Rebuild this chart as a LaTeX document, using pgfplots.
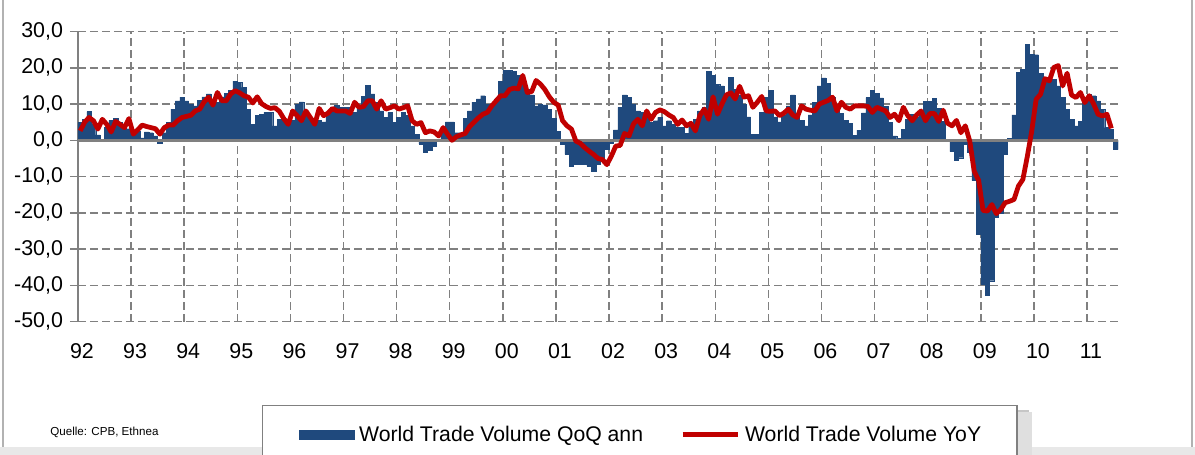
\documentclass[border=0pt]{standalone}
\usepackage{pgfplots}
\pgfplotsset{compat=1.18}
\usepackage{fontspec}
\setmainfont{Liberation Sans}
\definecolor{barblue}{RGB}{31,73,125}
\definecolor{linered}{RGB}{192,0,0}
\begin{document}
\begin{tikzpicture}[x=1pt,y=1pt]
\path[use as bounding box] (0,0) rectangle (597.5,227.5);
\fill[gray!18] (0,0) rectangle (597.5,4);
\draw[gray!60, line width=0.75pt] (1.5,4) -- (1.5,228);
\draw[gray!60, line width=0.75pt] (596,4) -- (596,228);
\fill[gray!45] (134,-5) rectangle (514.5,22.5);
\fill[gray!25] (134,-5) rectangle (516,21.5);
\node[anchor=west, font=\fontsize{5.8}{7}\selectfont, inner sep=0pt] at (25,11.5) {Quelle: CPB, Ethnea};
\begin{axis}[
  at={(39pt,66.65pt)}, anchor=south west, scale only axis,
  width=520pt, height=145.1pt,
  xmin=-0.5, xmax=234.5, ymin=-50, ymax=30,
  axis y line*=left, axis x line*=bottom,
  x axis line style={draw=none},
  y axis line style={draw=gray, line width=1pt},
  xtick={-0.5,11.5,...,227.5},
  xticklabels={92,93,94,95,96,97,98,99,00,01,02,03,04,05,06,07,08,09,10,11},
  ytick={-50,-40,...,30},
  yticklabels={{-50,0},{-40,0},{-30,0},{-20,0},{-10,0},{0,0},{10,0},{20,0},{30,0}},
  tick label style={font=\fontsize{10.7}{12}\selectfont, text=black},
  xticklabel style={xshift=2pt, yshift=-3.5pt},
  xtick style={draw=none},
  ytick style={draw=gray, line width=0.75pt},
  tick align=outside, major tick length=4pt,
  grid=major,
  major grid style={draw=gray, dash pattern=on 4pt off 2pt, line width=0.75pt},
  clip=true,
  legend columns=2,
  legend style={at={(0.1769,-0.287)}, anchor=north west, draw=gray, line width=0.75pt,
    fill=white, font=\fontsize{10.6}{12}\selectfont, inner xsep=18pt, inner ysep=10pt,
    nodes={inner sep=0pt, text=black},
    /tikz/every odd column/.append style={column sep=2.5pt},
    /tikz/every even column/.append style={column sep=18.5pt}},
]
\addplot[ybar, bar width=1, bar shift=0pt, fill=barblue, draw=barblue, line width=0.2pt,
  legend image code/.code={\fill[barblue] (0pt,-2.25pt) rectangle (27.5pt,2.25pt);}]
coordinates {
(0,4.9)(1,5.8)(2,7.9)(3,4.5)(4,1.5)(5,0.3)(6,3.5)(7,5.5)(8,6.1)(9,5.0)(10,4.2)(11,3.2)
(12,2.8)(13,2.5)(14,0.7)(15,2.3)(16,2.1)(17,1.2)(18,-0.8)(19,2.1)(20,4.9)(21,8.6)(22,10.9)(23,11.9)
(24,10.9)(25,10.0)(26,9.5)(27,11.0)(28,12.0)(29,12.8)(30,11.4)(31,10.5)(32,12.0)(33,13.0)(34,13.7)(35,16.3)
(36,16.0)(37,14.6)(38,8.6)(39,4.4)(40,6.8)(41,7.2)(42,7.7)(43,7.7)(44,4.0)(45,5.8)(46,5.8)(47,5.8)
(48,5.5)(49,10.0)(50,10.6)(51,7.0)(52,5.8)(53,4.4)(54,5.5)(55,5.1)(56,6.8)(57,9.1)(58,9.7)(59,9.1)
(60,9.1)(61,9.1)(62,7.7)(63,9.5)(64,12.1)(65,15.1)(66,12.8)(67,10.5)(68,8.1)(69,6.3)(70,7.7)(71,4.9)
(72,6.3)(73,7.7)(74,6.8)(75,4.0)(76,1.7)(77,-1.0)(78,-3.2)(79,-2.7)(80,-1.6)(81,-0.2)(82,3.5)(83,5.1)
(84,5.1)(85,2.1)(86,2.1)(87,6.0)(88,8.1)(89,10.5)(90,11.4)(91,12.3)(92,10.0)(93,9.5)(94,11.4)(95,16.2)
(96,19.3)(97,19.3)(98,19.0)(99,17.9)(100,16.0)(101,14.0)(102,12.5)(103,9.5)(104,10.0)(105,9.8)(106,8.6)(107,6.0)
(108,2.5)(109,-1.1)(110,-3.9)(111,-7.1)(112,-6.7)(113,-6.7)(114,-6.7)(115,-7.1)(116,-8.5)(117,-6.7)(118,-5.3)(119,-2.5)
(120,-0.8)(121,2.9)(122,9.1)(123,12.5)(124,11.9)(125,10.0)(126,8.1)(127,7.7)(128,7.7)(129,4.9)(130,5.4)(131,6.3)
(132,4.0)(133,5.4)(134,4.4)(135,3.5)(136,3.5)(137,1.9)(138,4.0)(139,5.8)(140,8.1)(141,9.1)(142,19.0)(143,17.9)
(144,15.4)(145,15.0)(146,12.5)(147,17.4)(148,14.0)(149,12.5)(150,10.0)(151,6.5)(152,1.7)(153,1.7)(154,7.7)(155,11.9)
(156,13.7)(157,6.5)(158,5.1)(159,7.0)(160,9.5)(161,12.5)(162,7.6)(163,5.5)(164,4.0)(165,7.0)(166,10.5)(167,15.0)
(168,17.2)(169,15.8)(170,12.0)(171,8.8)(172,7.5)(173,5.6)(174,4.6)(175,1.3)(176,2.8)(177,7.6)(178,11.8)(179,13.8)
(180,13.0)(181,11.7)(182,9.4)(183,4.9)(184,1.2)(185,0.5)(186,3.0)(187,5.8)(188,7.2)(189,6.5)(190,8.0)(191,10.7)
(192,10.7)(193,11.5)(194,8.8)(195,5.3)(196,0.0)(197,-3.1)(198,-5.5)(199,-4.8)(200,-1.1)(201,-3.4)(202,-11.1)(203,-25.8)
(204,-39.6)(205,-42.6)(206,-38.7)(207,-21.2)(208,-20.0)(209,-3.7)(210,0.6)(211,7.0)(212,18.7)(213,19.6)(214,26.4)(215,23.8)
(216,23.6)(217,18.4)(218,17.3)(219,17.3)(220,16.9)(221,15.0)(222,11.8)(223,8.6)(224,5.8)(225,4.0)(226,5.3)(227,10.4)
(228,12.7)(229,12.3)(230,10.9)(231,8.6)(232,3.5)(233,3.0)(234,-2.5)
};
\addlegendentry{World Trade Volume QoQ ann}
\addplot[draw=gray, line width=1.2pt, forget plot] coordinates {(-0.5,0) (234.5,0)};
\addplot[linered, line width=2.4pt, line join=round, mark=none,
  legend image code/.code={\draw[linered, line width=2.5pt] (0pt,0pt) -- (27.5pt,0pt);}]
coordinates {
(0,2.6)(1,5.0)(2,6.3)(3,5.4)(4,3.1)(5,5.8)(6,4.4)(7,2.3)(8,5.2)(9,4.4)(10,3.5)(11,6.0)
(12,1.7)(13,2.9)(14,4.2)(15,3.8)(16,3.5)(17,3.2)(18,1.7)(19,3.5)(20,4.2)(21,4.2)(22,5.4)(23,6.3)
(24,6.6)(25,6.9)(26,8.1)(27,8.6)(28,10.6)(29,11.9)(30,9.7)(31,13.2)(32,10.9)(33,10.9)(34,12.8)(35,13.7)
(36,13.1)(37,12.3)(38,11.9)(39,10.3)(40,12.0)(41,10.1)(42,9.3)(43,8.8)(44,9.0)(45,8.0)(46,6.0)(47,4.4)
(48,8.1)(49,6.8)(50,5.4)(51,8.1)(52,6.3)(53,4.4)(54,8.8)(55,6.8)(56,7.5)(57,8.8)(58,8.1)(59,8.1)
(60,8.1)(61,7.4)(62,10.5)(63,9.1)(64,9.3)(65,10.9)(66,10.9)(67,8.6)(68,10.9)(69,8.6)(70,9.0)(71,9.5)
(72,8.6)(73,9.0)(74,9.5)(75,5.4)(76,4.4)(77,4.9)(78,2.1)(79,2.6)(80,2.3)(81,1.2)(82,3.5)(83,1.7)
(84,0.0)(85,1.0)(86,1.5)(87,1.9)(88,3.8)(89,5.0)(90,6.2)(91,7.2)(92,7.7)(93,9.5)(94,10.9)(95,12.3)
(96,12.3)(97,14.0)(98,14.4)(99,14.2)(100,17.9)(101,13.2)(102,13.4)(103,16.5)(104,15.5)(105,14.0)(106,12.0)(107,10.5)
(108,9.7)(109,5.4)(110,4.0)(111,3.1)(112,-0.2)(113,-0.8)(114,-2.0)(115,-3.0)(116,-3.9)(117,-5.0)(118,-5.3)(119,-6.7)
(120,-4.4)(121,-1.6)(122,-1.4)(123,1.9)(124,1.2)(125,4.5)(126,5.8)(127,4.0)(128,8.1)(129,5.8)(130,7.7)(131,8.4)
(132,7.9)(133,7.0)(134,6.3)(135,4.4)(136,5.6)(137,4.0)(138,4.7)(139,2.6)(140,6.8)(141,8.6)(142,5.8)(143,12.0)
(144,7.2)(145,10.0)(146,12.5)(147,13.1)(148,11.4)(149,14.9)(150,11.9)(151,12.3)(152,9.1)(153,10.5)(154,12.1)(155,8.1)
(156,8.0)(157,8.1)(158,6.8)(159,7.5)(160,8.6)(161,7.0)(162,6.3)(163,9.5)(164,8.6)(165,8.3)(166,8.1)(167,10.0)
(168,10.5)(169,11.0)(170,11.9)(171,8.1)(172,10.5)(173,9.1)(174,8.6)(175,9.5)(176,9.5)(177,9.5)(178,9.3)(179,7.7)
(180,9.1)(181,8.6)(182,8.1)(183,6.3)(184,7.2)(185,5.4)(186,9.1)(187,6.8)(188,5.4)(189,7.0)(190,8.1)(191,5.4)
(192,7.4)(193,7.4)(194,5.2)(195,8.3)(196,4.7)(197,4.0)(198,5.5)(199,2.1)(200,4.0)(201,-0.2)(202,-8.5)(203,-11.0)
(204,-19.3)(205,-19.5)(206,-17.7)(207,-20.2)(208,-19.1)(209,-17.2)(210,-16.8)(211,-16.3)(212,-12.6)(213,-10.8)(214,-4.5)(215,2.5)
(216,11.3)(217,12.7)(218,17.0)(219,16.4)(220,20.1)(221,20.6)(222,15.0)(223,18.5)(224,12.5)(225,11.8)(226,13.2)(227,10.4)
(228,12.3)(229,10.0)(230,7.2)(231,6.7)(232,7.2)(233,3.3)
};
\addlegendentry{World Trade Volume YoY}
\end{axis}
\end{tikzpicture}
\end{document}
